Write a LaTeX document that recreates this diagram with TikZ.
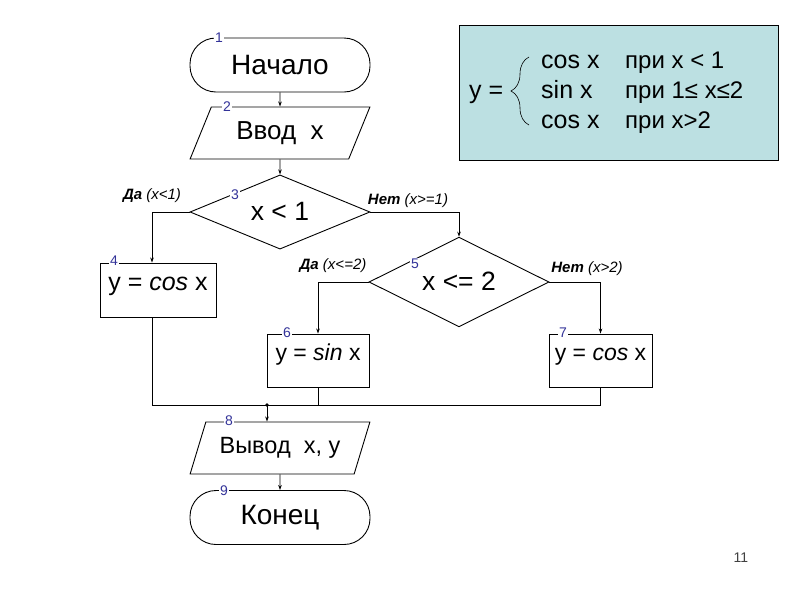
\documentclass[tikz,border=0pt]{standalone}
\usepackage{fontspec}
\setmainfont{Liberation Sans}
\usetikzlibrary{shapes.geometric,arrows.meta,decorations.pathreplacing}
\definecolor{numblue}{HTML}{333399}
\definecolor{formulabg}{HTML}{BCE0E2}

\begin{document}
\begin{tikzpicture}%
	[x=1pt, y=-1pt,
	line/.style={black, line width=0.9pt},
	arr/.style={line, -{Stealth[length=5pt,width=3.5pt]}},
	term/.style={draw, line width=0.9pt, rounded corners=26pt, minimum width=180pt, minimum height=54pt, font=\fontsize{28}{30}\selectfont},
	io/.style={draw, line width=0.9pt, trapezium, trapezium left angle=64, trapezium right angle=116, trapezium stretches=true, minimum width=180pt, minimum height=52pt, font=\fontsize{26}{30}\selectfont},
	test/.style={draw, line width=0.9pt, diamond, inner sep=0pt, minimum width=180pt, minimum height=69pt, text height=16pt, text depth=0pt, font=\fontsize{26.5}{28}\selectfont},
	proc/.style={draw, line width=0.9pt, rectangle, text height=11pt, text depth=11pt, font=\fontsize{23}{26}\selectfont},
	num/.style={fill=white, inner sep=1pt, text=numblue, font=\fontsize{14}{14}\selectfont},
	cond/.style={font=\fontsize{15}{15}\selectfont\itshape},
	formula/.style={anchor=base west, inner sep=0pt, font=\fontsize{25}{26}\selectfont}]
%
\useasboundingbox (0,0) rectangle (800,600);
%%
%% Drawing the blocks
%%
\node[term] (start) at (280,65) {Начало};
\node[io] (inp) at (280,133) {Ввод\ \ x};
\node[test] (d1) at (280,212) {x < 1};
\node[proc, minimum width=116pt, minimum height=54pt, font=\fontsize{25}{28}\selectfont] (b4) at (158,290) {y = \textit{cos} x};
\node[test, minimum height=70pt] (d2) at (459,282) {x <= 2};
\node[proc, minimum width=102pt, minimum height=53pt] (b6) at (318,360.5) {y = \textit{sin} x};
\node[proc, minimum width=103pt, minimum height=53pt] (b7) at (600.5,360.5) {y = \textit{cos} x};
\node[io, font=\fontsize{23.5}{28}\selectfont] (out) at (280,448) {Вывод\ \ x, y};
\node[term] (end) at (280,517.5) {Конец};
%%
%% Drawing the connectors
%%
\coordinate (join) at (267,405);
\coordinate (joinr) at (600.5,405);
\draw[arr] (start.south) -- (inp.north);
\draw[arr] (inp.south) -- (d1.north);
\draw[arr] (d1.west) -| ([xshift=-6pt]b4.north);
\draw[arr] (d1.east) -| (d2.north);
\draw[arr] (d2.west) -| (b6.north);
\draw[arr] (d2.east) -| (b7.north);
\draw[line] ([xshift=-6pt]b4.south) |- (joinr) -- (b7.south);
\draw[line] (b6.south) -- (b6.south |- joinr);
\fill (join) circle (1.8pt);
\draw[arr] (join) -- (join |- out.north);
\draw[arr] (out.south) -- (end.north);
%%
%% Branch labels
%%
\node[cond] (yes1) at (152,196) {\textbf{Да} (x<1)};
\node[cond] (no1) at (408,201) {\textbf{Нет} (x>=1)};
\node[cond] (yes2) at (333,266) {\textbf{Да} (x<=2)};
\node[cond] (no2) at (587,269) {\textbf{Нет} (x>2)};
%%
%% Block numbers
%%
\node[num] (n1) at (219,38) {1};
\node[num] (n2) at (227,107) {2};
\node[num] (n3) at (235,195) {3};
\node[num] (n4) at (114,261) {4};
\node[num] (n5) at (415,264) {5};
\node[num] (n6) at (287,333) {6};
\node[num] (n7) at (563,333) {7};
\node[num] (n8) at (229,421) {8};
\node[num] (n9) at (224,491) {9};
%%
%% The formula
%%
\draw[line, fill=formulabg, line width=1pt] (459,25) rectangle (778,160);
\node[formula] (ylhs) at (469,98) {y =};
\draw[line, line width=0.6pt, decorate, decoration={brace, amplitude=18pt}] (529,125) -- (529,57);
\node[formula] (f1) at (541,68) {cos x};
\node[formula] (f2) at (541,98) {sin x};
\node[formula] (f3) at (541,128) {cos x};
\node[formula, font=\fontsize{24}{26}\selectfont] (c1) at (625,68) {при x < 1};
\node[formula, font=\fontsize{24}{26}\selectfont] (c2) at (625,98) {при 1≤ x≤2};
\node[formula, font=\fontsize{24}{26}\selectfont] (c3) at (625,128) {при x>2};
%%
\node[text=black!75, font=\fontsize{14}{14}\selectfont] (page) at (741,558) {11};
\end{tikzpicture}
\end{document}
